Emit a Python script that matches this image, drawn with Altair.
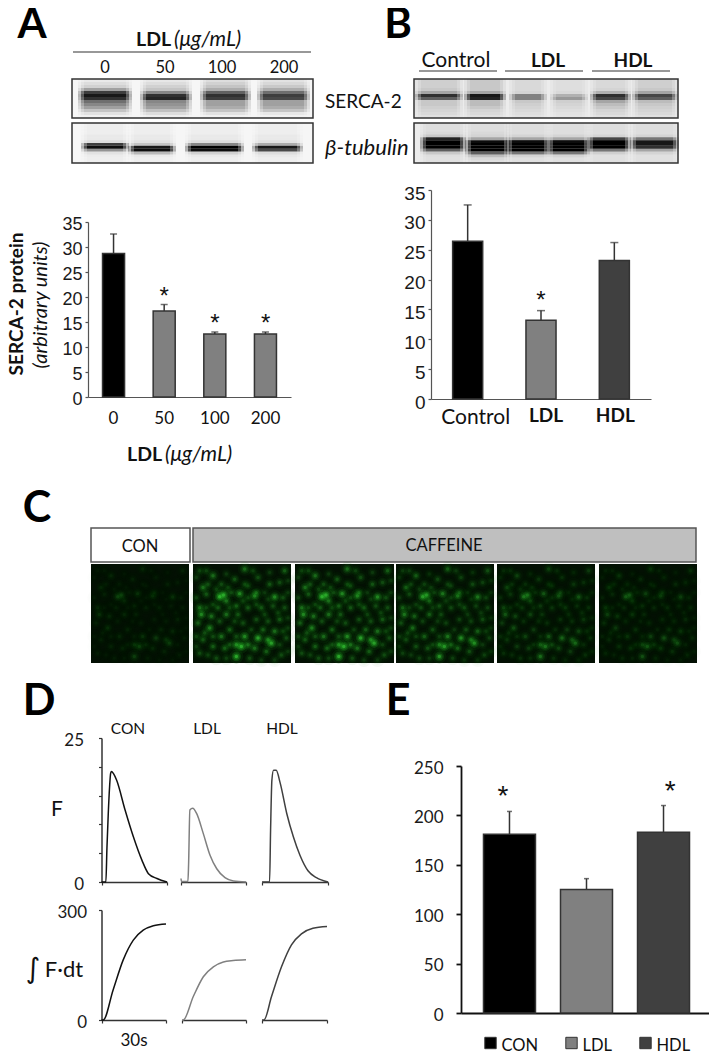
import altair as alt

W, H = 701, 1049
SANS = "Liberation Sans"
BODY = "Lato"

# ---------- bar panels ----------
a_cats = ["0", "50", "100", "200"]
a_vals = [28.7, 17.2, 12.6, 12.6]
a_tops = [32.6, 18.5, 13.0, 13.0]
a_cols = ["#000000", "#808080", "#808080", "#808080"]
a_star = ["", "*", "*", "*"]

b_cats = ["Control", "LDL", "HDL"]
b_vals = [26.4, 13.2, 23.2]
b_tops = [32.5, 14.8, 26.2]
b_cols = ["#000000", "#808080", "#404040"]
b_star = ["", "*", ""]

e_cats = ["CON", "LDL", "HDL"]
e_vals = [181, 125, 183]
e_tops = [204, 136, 210]
e_cols = ["#000000", "#808080", "#404040"]
e_star = ["*", "", "*"]

# ---------- traces (time in s, signal) ----------
con_f_t = [0, 2.0, 2.5, 3.1, 3.7, 4.2, 4.6, 5.5, 6.9, 10.8, 14.6, 18.5, 21.5, 25.4, 30]
con_f_v = [0, 0, 6, 11.9, 16.5, 18.9, 19.2, 18.8, 17.7, 12.5, 7.85, 3.8, 1.45, 0.6, 0]
ldl_f_t = [0, 0.2, 3.2, 3.5, 4.1, 5.4, 7.2, 10.3, 13.4, 16.5, 20.3, 24.2, 30]
ldl_f_v = [0.6, 0.1, 0.1, 3, 12.5, 12.8, 11.9, 8.4, 4.65, 2.3, 0.75, 0.17, 0]
hdl_f_t = [0, 3.45, 3.9, 4.5, 5.25, 6.45, 8.25, 11.25, 14.25, 17.25, 21, 24.75, 30]
hdl_f_v = [0, 0, 9, 17.7, 19.4, 19.4, 17.2, 11.9, 7.85, 4.65, 1.9, 0.75, 0]

con_i_t = [0, 0.8, 5.4, 10.1, 14.8, 19.4, 24.1, 30]
con_i_v = [0, 0, 82, 164, 218, 245, 257, 262]
ldl_i_t = [0, 0.6, 5.3, 10, 14.7, 19.4, 24, 30]
ldl_i_v = [0, 0, 64, 118, 145, 158, 162, 164]
hdl_i_t = [0, 0.9, 4.4, 9, 13.6, 18.2, 23.5, 30]
hdl_i_v = [0, 0, 64, 145, 205, 235, 250, 255]

# ---------- blots: lane extent inside the blot, darkness per row ----------
a_serca_lanes = [(9, 57), (71, 117), (131, 176), (188, 235)]
a_serca_rows = [
    [.05, .1, .15, .35, .75, .9, .8, .55, .45, .35, .2, .08, .02],
    [.06, .1, .15, .2, .45, .8, .85, .45, .4, .35, .22, .1, .03],
    [.1, .15, .2, .3, .6, .8, .75, .35, .35, .3, .2, .08, .02],
    [.08, .12, .18, .3, .55, .75, .7, .35, .35, .3, .2, .06, .02],
]
a_tub_lanes = [(12, 54), (59, 101), (116, 169), (183, 228)]
a_tub_rows = [
    [.03, .03, .03, .03, .05, .05, .1, .75, .95, .4, .08, .04, .03, .03],
    [.03, .03, .03, .03, .05, .05, .08, .2, .9, .95, .25, .05, .03, .03],
    [.03, .03, .03, .03, .05, .05, .1, .45, 1, .95, .15, .05, .03, .03],
    [.03, .03, .03, .03, .05, .05, .08, .3, .9, .7, .1, .05, .03, .03],
]
b_serca_lanes = [(4, 46), (53, 89), (98, 130), (139, 171), (179, 214), (221, 261)]
b_serca_rows = [
    [.12, .12, .12, .15, .3, .8, .6, .15, .15, .12, .1, .08, .05],
    [.15, .15, .15, .15, .3, .9, .85, .2, .2, .15, .1, .08, .05],
    [.08, .08, .08, .08, .1, .45, .45, .15, .12, .1, .08, .06, .04],
    [.06, .06, .06, .06, .08, .25, .35, .12, .1, .08, .06, .04, .03],
    [.08, .08, .08, .1, .25, .8, .7, .3, .2, .15, .1, .08, .05],
    [.12, .12, .12, .15, .3, .7, .6, .2, .15, .12, .1, .08, .05],
]
b_tub_lanes = [(9, 49), (54, 93), (95, 133), (136, 173), (176, 214), (219, 262)]
b_tub_rows = [
    [.06, .06, .06, .08, .15, .85, 1, 1, 1, .6, .15, .06, .05, .05],
    [.06, .06, .06, .08, .1, .3, .95, 1, 1, 1, .6, .2, .08, .05],
    [.06, .06, .06, .06, .1, .3, .95, 1, 1, 1, .5, .1, .05, .05],
    [.06, .06, .06, .06, .1, .3, .95, 1, 1, 1, .5, .1, .05, .05],
    [.06, .06, .06, .06, .1, .7, 1, 1, 1, .5, .12, .05, .05, .05],
    [.06, .06, .06, .06, .1, .5, .9, .9, .8, .3, .1, .05, .05, .05],
]

# ---------- fluorescence field: cell position (0-294) and brightness ----------
cell_u = [80, 92, 60, 30, 155, 140, 185, 245, 190, 275, 40, 100, 115, 20, 25, 55, 15, 50, 100, 130,
          165, 205, 240, 270, 260, 225, 190, 150, 110, 85, 60, 30, 145, 130, 155, 195, 235, 225, 245, 165,
          130, 95, 185, 220, 265, 85, 125, 195, 230, 20, 260, 20, 70, 170, 280, 275, 135, 75, 210, 45,
          10, 40, 100, 180, 230, 285, 105, 155, 215, 285, 10, 60, 165, 225, 40, 110, 190, 255, 285, 80,
          125, 215, 35, 130, 175, 270, 10, 60, 110, 260, 10, 45, 100, 205, 245, 285, 150, 70, 165, 285]
cell_v = [97, 92, 35, 70, 15, 88, 95, 98, 85, 20, 90, 110, 85, 130, 150, 155, 175, 190, 150, 125,
          130, 130, 125, 100, 165, 170, 165, 175, 195, 215, 245, 225, 245, 240, 215, 220, 235, 225, 200, 240,
          275, 250, 250, 260, 270, 60, 45, 40, 60, 20, 55, 265, 280, 280, 220, 130, 150, 130, 195, 60,
          40, 20, 30, 20, 25, 50, 70, 60, 85, 85, 100, 120, 100, 105, 130, 130, 120, 145, 160, 170,
          170, 150, 205, 215, 195, 200, 215, 215, 240, 240, 245, 270, 280, 285, 285, 260, 110, 75, 65, 190]
cell_b = [1, .9, .5, .5, .5, .7, .6, .7, .4, .4, .35, .5, .3, .5, .7, .5, .4, .6, .5, .4,
          .35, .35, .3, .3, .35, .3, .3, .3, .4, .5, .4, .35, 1, .7, .7, .9, .9, .6, .5, .5,
          1, .4, .5, .4, .3, .3, .35, .3, .35, .25, .3, .3, .3, .3, .3, .3, .35, .35, .4, .3,
          .2, .25, .2, .25, .2, .2, .25, .25, .2, .2, .25, .25, .25, .2, .25, .25, .25, .25, .2, .3,
          .25, .25, .3, .3, .25, .25, .25, .3, .3, .25, .2, .25, .25, .2, .2, .2, .25, .25, .25, .2]
field_panels = [(91, 189), (193, 291), (295, 394), (396, 494), (497, 595), (599, 697)]
field_gain = [0.22, 1, 1, 0.8, 0.5, 0.33]


def X(v):
    return v - 8


def Y(v):
    return v - 8


layers = []


def txt(s, x, y, size=16, font=BODY, weight="normal", style="normal", align="center", angle=0, color="#111111"):
    kw = dict(font=font, fontSize=size, fontWeight=weight, fontStyle=style, align=align,
              baseline="middle", color=color)
    if angle:
        kw["angle"] = angle
    layers.append(alt.Chart(alt.Data(values=[{"t": s}])).mark_text(**kw).encode(
        text="t:N", x=alt.value(X(x)), y=alt.value(Y(y))))


def box(x0, y0, x1, y1, fill=None, stroke="#333333", sw=1.5):
    kw = dict(stroke=stroke, strokeWidth=sw)
    kw["fill"] = fill if fill else "transparent"
    layers.append(alt.Chart(alt.Data(values=[{"a": 1}])).mark_rect(**kw).encode(
        x=alt.value(X(x0)), x2=alt.value(X(x1)), y=alt.value(Y(y0)), y2=alt.value(Y(y1))))


def hline(x0, x1, y, color="#333333", sw=1.2):
    layers.append(alt.Chart(alt.Data(values=[{"a": 1}])).mark_rule(color=color, strokeWidth=sw).encode(
        x=alt.value(X(x0)), x2=alt.value(X(x1)), y=alt.value(Y(y))))


def bar_panel(cats, vals, tops, cols, stars, x0, x1, y0, y1, ymax, step, pi, po,
              yfont, ysize, ytick, ypad, yoff, xsize, xpad, axcolor, axw, capw, stardy, starsize,
              xweight=None, xoffset=None):
    rows = [dict(c=c, v=v, top=t, col=k, s=s) for c, v, t, k, s in zip(cats, vals, tops, cols, stars)]
    xs = alt.Scale(domain=cats, range=[X(x0), X(x1)], paddingInner=pi, paddingOuter=po)
    ys = alt.Scale(domain=[0, ymax], range=[Y(y0), Y(y1)], nice=False)
    xax = dict(title=None, orient="bottom", offset=-(H - Y(y0)), tickSize=0, domainColor=axcolor, domainWidth=axw,
               labelAngle=0)
    if xsize:
        xax.update(labelFont=BODY, labelFontSize=xsize, labelPadding=xpad, labelColor="#111111")
    else:
        xax["labels"] = False
    if xweight:
        xax["labelFontWeight"] = xweight
    if xoffset:
        xax["labelOffset"] = xoffset
    yax = alt.Axis(title=None, orient="left", offset=-X(x0), values=list(range(0, ymax + 1, step)), tickSize=ytick,
                   grid=False, labelFont=yfont, labelFontSize=ysize, labelPadding=ypad, labelOffset=yoff,
                   labelColor="#1a1a1a", labelFlush=False, domainColor=axcolor, tickColor=axcolor,
                   domainWidth=axw, tickWidth=axw)
    d = alt.Data(values=rows)
    ex = alt.X("c:N", scale=xs, axis=None, sort=cats)
    layers.append(alt.Chart(d).mark_rule(color="#333333", strokeWidth=1.5).encode(
        x=ex, y=alt.Y("v:Q", scale=ys, axis=None), y2="top:Q"))
    layers.append(alt.Chart(d).mark_tick(color="#333333", thickness=1.5, size=capw, orient="horizontal", bandSize=capw).encode(
        x=ex, y=alt.Y("top:Q", scale=ys, axis=None)))
    layers.append(alt.Chart(d).mark_bar(stroke="#333333", strokeWidth=1.5).encode(
        x=alt.X("c:N", scale=xs, axis=alt.Axis(**xax), sort=cats),
        y=alt.Y("v:Q", scale=ys, axis=yax),
        fill=alt.Fill("col:N", scale=None)))
    layers.append(alt.Chart(d).mark_text(font=SANS, fontSize=starsize, dy=stardy, color="#111111").encode(
        x=ex, y=alt.Y("top:Q", scale=ys, axis=None), text="s:N"))


def blot(x0, y0, x1, y1, lanes, rows, bg):
    box(x0, y0, x1, y1, fill=bg, stroke=bg, sw=0)
    n = len(rows[0])
    recs = []
    for (a, b), prof in zip(lanes, rows):
        segs = [(a - 3, a, .3), (a, a + 3, .7), (a + 3, b - 3, 1), (b - 3, b, .7), (b, b + 3, .3)]
        for r, d in enumerate(prof):
            for sa, sb, k in segs:
                recs.append(dict(a=sa, b=sb, r=r, d=round(d * k, 3)))
    xs = alt.Scale(domain=[0, x1 - x0], range=[X(x0), X(x1)], nice=False, zero=False)
    ys = alt.Scale(domain=list(range(n)), range=[Y(y0), Y(y1)], paddingInner=0, paddingOuter=0)
    layers.append(alt.Chart(alt.Data(values=recs)).mark_rect(color="#000000").encode(
        x=alt.X("a:Q", scale=xs, axis=None), x2="b:Q",
        y=alt.Y("r:O", scale=ys, axis=None),
        opacity=alt.Opacity("d:Q", scale=None)))
    box(x0, y0, x1, y1)


def trace(t, v, color, px0, px1, y0, y1, ymax, yvals=None, ylabels=None, ypad=15):
    d = alt.Data(values=[dict(t=a, v=b) for a, b in zip(t, v)])
    xs = alt.Scale(domain=[0, 30], range=[X(px0), X(px1)], nice=False)
    ys = alt.Scale(domain=[0, ymax], range=[Y(y0), Y(y1)], nice=False)
    xax = alt.Axis(title=None, orient="bottom", offset=-(H - Y(y0)), values=[0, 30], labels=False, tickSize=3,
                   grid=False, domainColor="#333333", tickColor="#333333", domainWidth=1.5, tickWidth=1.2)
    if yvals:
        yax = alt.Axis(title=None, orient="left", offset=-X(px0), values=yvals, tickSize=3, grid=False, labelFont=BODY,
                       labelFontSize=17, labelPadding=ypad, labelOffset=2, labelColor="#1a1a1a", labelFlush=False,
                       labelExpr=ylabels, domainColor="#333333", tickColor="#333333",
                       domainWidth=1.5, tickWidth=1.2)
    else:
        yax = None
    layers.append(alt.Chart(d).mark_line(color=color, strokeWidth=1.5, interpolate="monotone").encode(
        x=alt.X("t:Q", scale=xs, axis=xax), y=alt.Y("v:Q", scale=ys, axis=yax)))


# --- panel letters
for s, x, y, size in [("A", 32, 25, 42), ("B", 398, 25, 42), ("C", 37, 509, 43), ("D", 39, 702, 43), ("E", 398, 702, 43)]:
    txt(s, x, y, size=size, weight="bold", color="#000000")

# --- A blots and header
txt("LDL", 136, 40, size=19.5, weight="bold", align="left")
txt("(μg/mL)", 174, 40, size=21, style="italic", align="left")
hline(73, 311, 52)
for s, x in zip(a_cats, [105, 165, 222, 284]):
    txt(s, x, 68, size=16.5)
blot(72, 79, 313, 118, a_serca_lanes, a_serca_rows, "#f6f6f6")
blot(72, 123, 313, 163, a_tub_lanes, a_tub_rows, "#f6f6f6")
txt("SERCA-2", 325, 102, size=19, align="left")
txt("β-tubulin", 325, 148, size=22, style="italic", align="left")

# --- B blots and header
txt("Control", 456, 61, size=21)
txt("LDL", 548, 61, size=19, weight="bold")
txt("HDL", 633, 61, size=19, weight="bold")
for a, b in [(419, 497), (505, 583), (592, 670)]:
    hline(a, b, 71)
blot(414, 79, 678, 118, b_serca_lanes, b_serca_rows, "#ececec")
blot(414, 123, 678, 163, b_tub_lanes, b_tub_rows, "#ececec")

# --- bar charts
bar_panel(a_cats, a_vals, a_tops, a_cols, a_star, 88, 291, 397, 222, 35, 5, 0.565, 0.287,
          SANS, 18, 3, 3, 2, 17, 13, "#555555", 1.2, 7, -8, 24)
txt("SERCA-2 protein", 17, 304, size=19, weight="bold", angle=270)
txt("(arbitrary units)", 41, 305, size=20, style="italic", angle=270)
txt("LDL", 127, 455, size=19.5, weight="bold", align="left")
txt("(μg/mL)", 165, 455, size=21, style="italic", align="left")

bar_panel(b_cats, b_vals, b_tops, b_cols, b_star, 431, 651, 399, 190, 35, 5, 0.59, 0.295,
          SANS, 19, 3, 3, 3,
          {"condition": {"test": "datum.value != 'Control'", "value": 19}, "value": 21}, 7, "#555555", 1.2, 8, -10, 24,
          xweight={"condition": {"test": "datum.value != 'Control'", "value": "bold"}, "value": "normal"},
          xoffset={"condition": [{"test": "datum.value == 'Control'", "value": 8},
                                 {"test": "datum.value == 'LDL'", "value": 5}], "value": 1})

bar_panel(e_cats, e_vals, e_tops, e_cols, e_star, 461, 712, 1013, 766, 250, 50, 0.325, 0.292,
          BODY, 17, 5, 13, 2, None, 0, "#111111", 1.8, 5, -14, 28)

# --- C
box(91, 528, 190, 562, fill="#ffffff", stroke="#555555", sw=1.5)
box(193, 528, 696, 562, fill="#bfbfbf", stroke="#555555", sw=1.5)
txt("CON", 140, 547, size=16.5)
txt("CAFFEINE", 444, 546, size=16.5)
for (px0, px1), gain in zip(field_panels, field_gain):
    box(px0, 564, px1, 663, fill="#031003", stroke="#031003", sw=0)
    recs = [dict(u=u, v=v, o=round(b * gain, 3)) for u, v, b in zip(cell_u, cell_v, cell_b)]
    xs = alt.Scale(domain=[0, 294], range=[X(px0), X(px1)], nice=False)
    ys = alt.Scale(domain=[0, 294], range=[Y(564), Y(663)], nice=False)
    base = alt.Chart(alt.Data(values=recs))
    enc = dict(x=alt.X("u:Q", scale=xs, axis=None), y=alt.Y("v:Q", scale=ys, axis=None))
    for size, k, colr in [(200, 0.2, "#0f6a0f"), (90, 0.3, "#1c941c"), (40, 0.3, "#2cc42c"), (12, 0.5, "#40e040")]:
        layers.append(base.transform_calculate(h=f"datum.o * {k}").mark_circle(size=size, color=colr).encode(
            opacity=alt.Opacity("h:Q", scale=None), **enc))

# --- D
f_labels = "datum.value == 0 || datum.value == 25 ? datum.label : ''"
trace(con_f_t, con_f_v, "#111111", 101.5, 167, 882, 738, 25, [0, 5, 10, 15, 20, 25], f_labels)
trace(ldl_f_t, ldl_f_v, "#808080", 181, 246, 882, 738, 25)
trace(hdl_f_t, hdl_f_v, "#404040", 262, 328, 882, 738, 25)
trace(con_i_t, con_i_v, "#111111", 101.5, 166, 1020, 910, 300, [0, 300], "datum.label", ypad=12)
trace(ldl_i_t, ldl_i_v, "#808080", 182, 246, 1020, 910, 300)
trace(hdl_i_t, hdl_i_v, "#404040", 262, 327, 1020, 910, 300)
for s, x in [("CON", 128), ("LDL", 207), ("HDL", 282)]:
    txt(s, x, 729, size=15.5)
txt("F", 57, 810, size=21)
txt("∫", 33, 970, size=28, font="DejaVu Sans")
txt("F·dt", 64, 970, size=22)
txt("30s", 134, 1041, size=17)

# --- E legend
leg = [dict(i=i, c=c, k=k) for i, (c, k) in enumerate(zip(e_cats, e_cols))]
leg_x = alt.Scale(domain=[0, 1, 2], range=[X(490.5), X(571.5), X(645.5)])
layers.append(alt.Chart(alt.Data(values=leg)).mark_square(size=130, stroke="#333333", strokeWidth=1, opacity=1).encode(
    x=alt.X("i:Q", scale=leg_x, axis=None), y=alt.value(Y(1043)), fill=alt.Fill("k:N", scale=None)))
layers.append(alt.Chart(alt.Data(values=leg)).mark_text(font=BODY, fontSize=16.5, align="left", dx=11, color="#111111").encode(
    x=alt.X("i:Q", scale=leg_x, axis=None), y=alt.value(Y(1046)), text="c:N"))

chart = alt.layer(*layers).resolve_scale(x="independent", y="independent").properties(
    width=W, height=H, padding=0, autosize=alt.AutoSizeParams(type="none"),
    background="white").configure_view(strokeWidth=0)

chart.save("out.html", embed_options={"renderer": "svg", "actions": False})
